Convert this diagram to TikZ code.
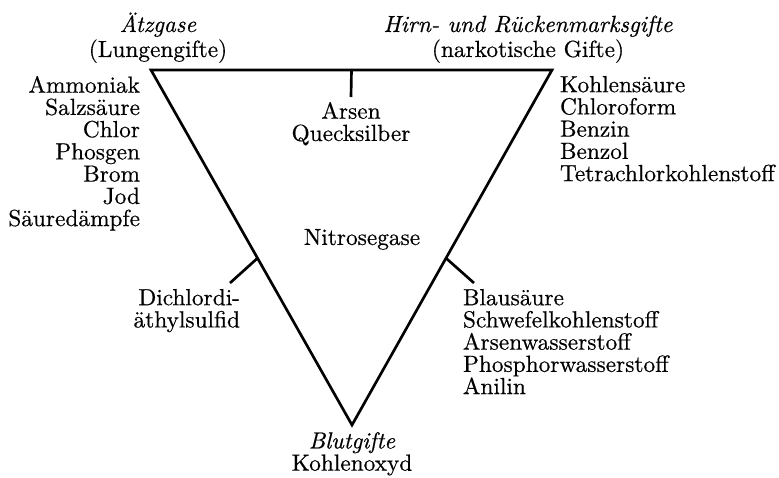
\documentclass[tikz,border=0pt]{standalone}
\usepackage{fontspec}
\setmainfont{lmroman10}[Extension=.otf, UprightFont=*-regular, ItalicFont=*-italic, BoldFont=*-bold, BoldItalicFont=*-bolditalic, FakeBold=0.5]
\begin{document}
\begin{tikzpicture}[x=0.45pt,y=-0.45pt,
  every node/.style={inner sep=0pt, outer sep=0pt},
  txt/.style={font=\fontsize{10.5}{10.0}\selectfont},
  head/.style={font=\fontsize{10.5}{11.25}\selectfont, align=center},
  edge/.style={line width=1.2pt, line join=miter},
  tickline/.style={line width=1.2pt}
]
\useasboundingbox (0,0) rectangle (779,477);

% triangle
\coordinate (A) at (151,70);
\coordinate (B) at (552,70);
\coordinate (C) at (352,425);
\draw[edge] (A) -- (B) -- (C) -- cycle;
\path (A) -- (B) coordinate[pos=0.5] (tm);
\path (A) -- (C) coordinate[pos=0.53] (tl);
\path (B) -- (C) coordinate[pos=0.53] (tr);
\coordinate (tmEnd) at (351,97);
\coordinate (tlEnd) at (230,283);
\coordinate (trEnd) at (474,283);
\draw[tickline] (tm) -- (tmEnd);
\draw[tickline] (tl) -- (tlEnd);
\draw[tickline] (tr) -- (trEnd);

% corner headings
\node[head, anchor=south] (atz) at (158,62.8) {\textit{Ätzgase}\\(Lungengifte)};
\node[head, anchor=south] (hirn) at (528,62.8) {\textit{Hirn- und Rückenmarksgifte}\\(narkotische Gifte)};
\node[txt, align=center, anchor=north] (blut) at (352,432) {\textit{Blutgifte}\\Kohlenoxyd};

% lists
\node[txt, align=right, anchor=north east] (lungen) at (140,76)
  {Ammoniak\\Salzsäure\\Chlor\\Phosgen\\Brom\\Jod\\Säuredämpfe};
\node[txt, align=left, anchor=north west] (narko) at (560,76)
  {Kohlensäure\\Chloroform\\Benzin\\Benzol\\Tetrachlorkohlenstoff};
\node[txt, align=center, anchor=north] (arsen) at (351,102)
  {Arsen\\Quecksilber};
\node[txt, anchor=north] (nitro) at (362,229) {Nitrosegase};
\node[txt, align=right, anchor=north east] (dichlor) at (240,289)
  {Dichlordi-\\äthylsulfid};
\node[txt, align=left, anchor=north west] (blau) at (463,289)
  {Blausäure\\Schwefelkohlenstoff\\Arsenwasserstoff\\Phosphorwasserstoff\\Anilin};
\end{tikzpicture}
\end{document}
